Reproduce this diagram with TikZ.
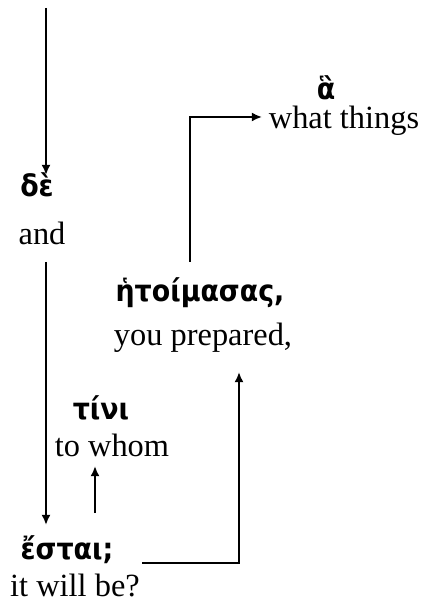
\documentclass[tikz,border=0pt]{standalone}
\usepackage{fontspec}
\setmainfont{Liberation Serif}
\newfontfamily\greekfont{DejaVu Sans Condensed}
\usetikzlibrary{calc,arrows.meta}
\tikzset{
  gk/.style={inner sep=0pt, font=\greekfont\bfseries\fontsize{10.5}{12}\selectfont},
  gloss/.style={inner sep=0pt, font=\fontsize{11.4}{13}\selectfont},
  link/.style={->, line width=0.7pt}
}
\begin{document}
\begin{tikzpicture}[x=0.352pt, y=-0.352pt, >={Latex[length=3.6pt,width=3.2pt]}]
\useasboundingbox (0,0) rectangle (428,601);
\node[gk] (de) at (37,185) {δὲ};
\node[gloss] (and) at (42,233) {and};
\node[gk] (hetoim) at (200,293) {ἡτοίμασας,};
\node[gloss] (prepared) at (203,338) {you prepared,};
\node[gk] (ha) at (326,88) {ἃ};
\node[gloss] (what) at (344,121) {what things};
\node[gk] (tini) at (101,408) {τίνι};
\node[gloss] (towhom) at (112,445) {to whom};
\node[gk] (estai) at (67,550) {ἔσται;};
\node[gloss] (willbe) at (75,585) {it will be?};
\coordinate (start) at (46,8);
\draw[link] (start) -- ($(de)+(9,-10)$);
\draw[link] ($(and)+(4,29)$) -- ($(estai)+(-21,-25)$);
\draw[link] ($(estai)+(28,-37)$) -- ($(towhom)+(-17,21)$);
\draw[link] ($(estai)+(75,13)$) -| ($(prepared)+(36,34)$);
\draw[link] ($(hetoim)+(-10,-31)$) |- ($(what)+(-82,-4)$);
\end{tikzpicture}
\end{document}
